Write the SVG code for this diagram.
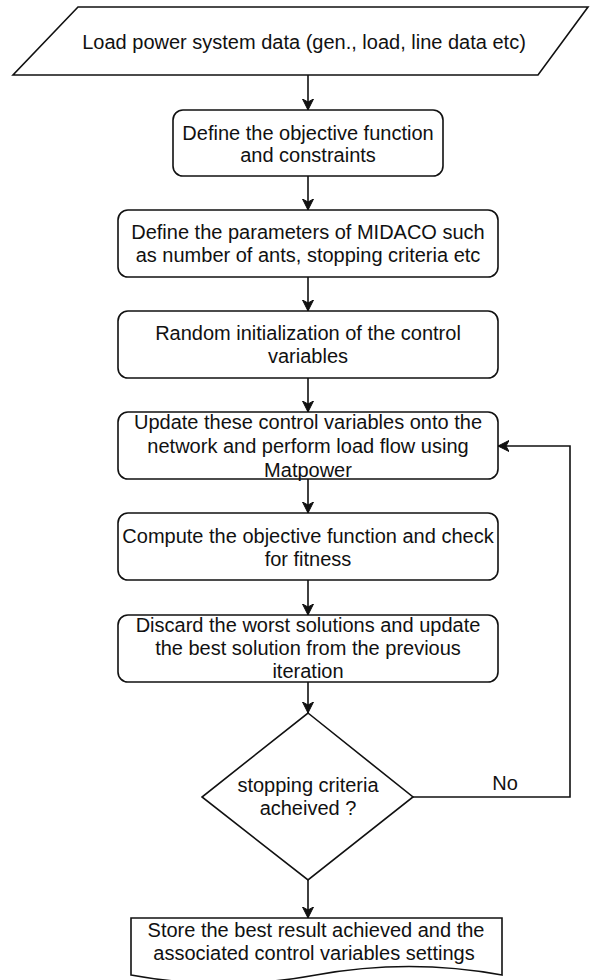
<svg xmlns="http://www.w3.org/2000/svg" width="593" height="980" viewBox="0 0 593 980">
  <style>
    .shape { fill: #ffffff; stroke: #111111; stroke-width: 1.6; }
    .edge { fill: none; stroke: #111111; stroke-width: 1.6; }
    text { font-family: "Liberation Sans", Arial, sans-serif; font-size: 20px; fill: #111111; text-anchor: middle; }
  </style>
  <defs>
    <marker id="arrow" viewBox="0 0 12 12" refX="11" refY="6" markerWidth="12" markerHeight="12" markerUnits="userSpaceOnUse" orient="auto">
      <path d="M0,0.5 L11,6 L0,11.5 L3,6 Z" fill="#111111" stroke="#111111" stroke-width="1"/>
    </marker>
  </defs>

  <rect width="593" height="980" fill="#ffffff"/>

  <!-- connectors -->
  <g id="connectors">
    <line class="edge" x1="308" y1="75" x2="308" y2="110" marker-end="url(#arrow)"/>
    <line class="edge" x1="308" y1="176" x2="308" y2="210" marker-end="url(#arrow)"/>
    <line class="edge" x1="308" y1="277" x2="308" y2="311" marker-end="url(#arrow)"/>
    <line class="edge" x1="308" y1="378" x2="308" y2="412" marker-end="url(#arrow)"/>
    <line class="edge" x1="308" y1="479" x2="308" y2="513" marker-end="url(#arrow)"/>
    <line class="edge" x1="308" y1="580" x2="308" y2="615" marker-end="url(#arrow)"/>
    <line class="edge" x1="308" y1="682" x2="308" y2="713" marker-end="url(#arrow)"/>
    <line class="edge" x1="308" y1="880" x2="308" y2="918" marker-end="url(#arrow)"/>
    <polyline class="edge" points="413,797 570,797 570,446 498,446" marker-end="url(#arrow)"/>
    <text x="505" y="790">No</text>
  </g>

  <!-- input data -->
  <g id="load-data">
    <polygon class="shape" points="78,7 588,7 538,75 13,75"/>
    <text x="304" y="49">Load power system data (gen., load, line data etc)</text>
  </g>

  <g id="define-objective">
    <rect class="shape" x="173" y="110" width="270" height="66" rx="10"/>
    <text x="308" y="140">Define the objective function</text>
    <text x="308" y="162">and constraints</text>
  </g>

  <g id="define-parameters">
    <rect class="shape" x="118" y="210" width="380" height="67" rx="10"/>
    <text x="308" y="239">Define the parameters of MIDACO such</text>
    <text x="308" y="262">as number of ants, stopping criteria etc</text>
  </g>

  <g id="random-init">
    <rect class="shape" x="118" y="311" width="380" height="67" rx="10"/>
    <text x="308" y="340">Random initialization of the control</text>
    <text x="308" y="363">variables</text>
  </g>

  <g id="load-flow">
    <rect class="shape" x="118" y="412" width="380" height="67" rx="10"/>
    <text x="308" y="429">Update these control variables onto the</text>
    <text x="308" y="453">network and perform load flow using</text>
    <text x="308" y="477">Matpower</text>
  </g>

  <g id="compute-objective">
    <rect class="shape" x="118" y="513" width="380" height="67" rx="10"/>
    <text x="308" y="543">Compute the objective function and check</text>
    <text x="308" y="566">for fitness</text>
  </g>

  <g id="discard-update">
    <rect class="shape" x="118" y="615" width="380" height="67" rx="10"/>
    <text x="308" y="632">Discard the worst solutions and update</text>
    <text x="308" y="655">the best solution from the previous</text>
    <text x="308" y="678">iteration</text>
  </g>

  <g id="stop-check">
    <polygon class="shape" points="308,713 413,797 308,880 202,797"/>
    <text x="308" y="792">stopping criteria</text>
    <text x="308" y="815">acheived ?</text>
  </g>

  <g id="store-result">
    <path class="shape" d="M131,918 H502 V975 Q409,958 316,975 Q224,992 131,975 Z"/>
    <text x="316" y="937">Store the best result achieved and the</text>
    <text x="314" y="960">associated control variables settings</text>
  </g>
</svg>
